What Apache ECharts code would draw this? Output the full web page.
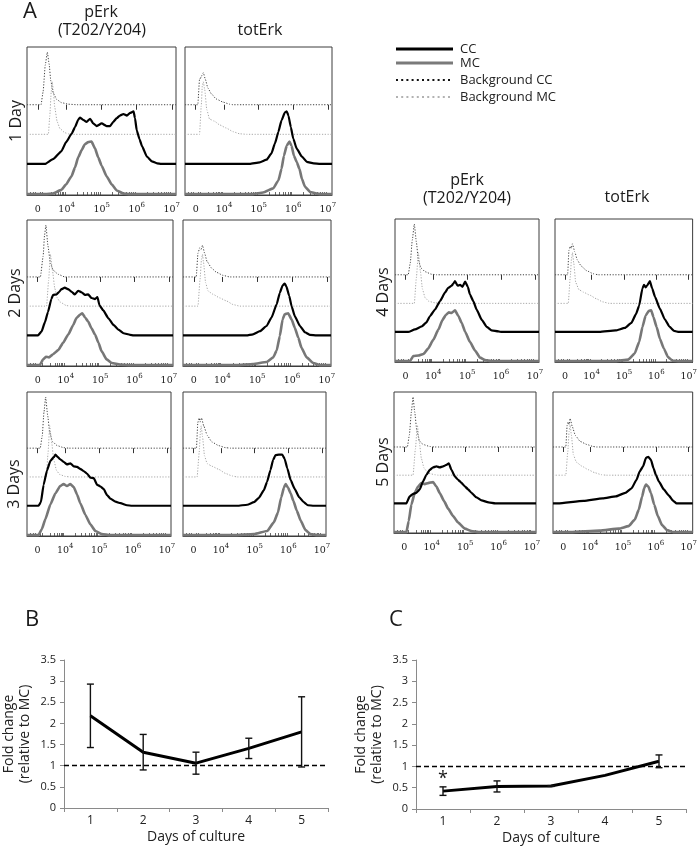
<!DOCTYPE html>
<html><head><meta charset="utf-8">
<script src="https://cdn.jsdelivr.net/npm/echarts@6/dist/echarts.min.js"></script>
<style>html,body{margin:0;padding:0;background:#fff}#c{width:700px;height:849px}</style>
</head><body><div id="c"></div>
<script>
// ================= DATA =================
// x tick labels of the flow histograms (display position in decades, label exponent; '' = "0")
const xTickPos = [3.18, 4, 5, 6, 7];
const xTickExp = ['', '4', '5', '6', '7'];
const markers = ['pErk', 'totErk'];
const dayLabels = ['1 Day', '2 Days', '3 Days', '4 Days', '5 Days'];
const legendNames = ['CC', 'MC', 'Background CC', 'Background MC'];

// histogram curves: [fluorescence (decade units), % of mode]
const d1PerkBgCC = [[3.27,0],[3.33,25],[3.39,75],[3.45,100],[3.50,78],[3.55,45],[3.62,22],[3.72,10],[3.85,4],[4.05,1],[4.3,0]];
const d1PerkBgMC = [[3.48,0],[3.52,35],[3.56,80],[3.59,100],[3.62,85],[3.66,52],[3.73,24],[3.81,11],[3.95,3],[4.1,0]];
const d1PerkCC = [[3.38,0],[3.61,9],[3.85,24],[3.98,41],[4.14,57],[4.24,70],[4.33,84],[4.38,88],[4.47,84],[4.57,80],[4.67,86],[4.76,77],[4.86,72],[5.00,77],[5.14,72],[5.24,72],[5.33,80],[5.43,87],[5.52,92],[5.62,95],[5.72,92],[5.81,97],[5.91,100],[5.95,87],[6.00,64],[6.08,47],[6.15,34],[6.29,14],[6.43,5],[6.58,1],[6.7,0]];
const d1PerkMC = [[3.4,0],[3.61,1],[3.85,8],[3.98,18],[4.14,34],[4.24,51],[4.33,70],[4.43,84],[4.52,95],[4.62,99],[4.71,100],[4.81,87],[4.90,70],[5.00,54],[5.14,34],[5.29,18],[5.43,7],[5.62,1],[5.81,0]];
const d1TotBgCC = [[3.24,0],[3.29,48],[3.34,53],[3.36,56],[3.40,61],[3.46,48],[3.53,32],[3.63,21],[3.77,11],[3.97,5],[4.16,1],[4.26,0]];
const d1TotBgMC = [[3.29,0],[3.34,54],[3.37,92],[3.40,100],[3.44,85],[3.50,47],[3.58,29],[3.72,25],[3.87,18],[4.06,12],[4.26,5],[4.45,1],[4.65,0]];
const d1TotCC = [[4.74,0],[5.03,3],[5.23,8],[5.37,20],[5.47,39],[5.57,61],[5.66,83],[5.76,98],[5.81,100],[5.86,92],[5.93,70],[6.00,48],[6.10,29],[6.25,14],[6.39,4],[6.59,1],[6.78,0]];
const d1TotMC = [[4.84,0],[5.13,3],[5.42,11],[5.57,26],[5.66,48],[5.73,73],[5.81,92],[5.89,100],[5.95,92],[6.02,73],[6.10,61],[6.18,48],[6.25,29],[6.34,14],[6.49,4],[6.68,1],[6.8,0]];

const d2PerkBgCC = [[3.26,0],[3.34,40],[3.38,80],[3.42,100],[3.48,60],[3.55,27],[3.63,13],[3.78,5],[3.97,0]];
const d2PerkBgMC = [[3.44,0],[3.50,50],[3.55,100],[3.61,69],[3.68,34],[3.75,16],[3.83,8],[4.02,1],[4.15,0]];
const d2PerkCC = [[3.19,0],[3.29,7],[3.39,25],[3.48,45],[3.58,70],[3.63,78],[3.73,79],[3.81,84],[3.87,89],[3.97,92],[4.07,89],[4.17,84],[4.26,79],[4.36,86],[4.46,83],[4.56,78],[4.65,79],[4.75,72],[4.85,70],[4.92,74],[4.98,58],[5.09,48],[5.24,33],[5.39,20],[5.53,11],[5.68,4],[5.87,1],[5.97,0]];
const d2PerkMC = [[3.24,0],[3.34,11],[3.42,16],[3.51,15],[3.63,21],[3.78,29],[3.92,43],[4.07,59],[4.22,78],[4.31,91],[4.41,97],[4.48,100],[4.56,92],[4.65,84],[4.75,71],[4.85,59],[4.95,43],[5.04,27],[5.19,11],[5.34,4],[5.58,1],[5.87,0]];
const d2TotBgCC = [[3.25,0],[3.30,46],[3.35,56],[3.39,53],[3.43,61],[3.49,46],[3.56,30],[3.69,17],[3.83,9],[4.02,3],[4.21,0]];
const d2TotBgMC = [[3.30,0],[3.36,52],[3.40,90],[3.43,100],[3.46,84],[3.52,45],[3.59,29],[3.73,23],[3.92,16],[4.12,10],[4.31,3],[4.50,0]];
const d2TotCC = [[4.69,0],[4.88,2],[5.08,8],[5.27,18],[5.41,34],[5.56,60],[5.65,82],[5.73,96],[5.79,100],[5.84,94],[5.92,76],[5.99,56],[6.08,37],[6.23,18],[6.37,6],[6.51,1],[6.71,0]];
const d2TotMC = [[4.40,0],[4.88,2],[5.27,6],[5.46,15],[5.56,28],[5.65,56],[5.73,88],[5.79,98],[5.89,100],[5.99,88],[6.08,72],[6.18,53],[6.27,34],[6.42,15],[6.61,4],[6.80,0]];

const d3PerkBgCC = [[3.26,0],[3.32,24],[3.37,70],[3.42,100],[3.48,64],[3.54,31],[3.62,13],[3.76,5],[3.95,1],[4.10,0]];
const d3PerkBgMC = [[3.44,0],[3.49,46],[3.54,100],[3.59,72],[3.66,34],[3.74,13],[3.83,5],[4.00,1],[4.15,0]];
const d3PerkCC = [[3.21,0],[3.28,7],[3.36,41],[3.46,69],[3.56,88],[3.66,95],[3.71,100],[3.78,95],[3.85,91],[3.95,86],[4.05,81],[4.15,83],[4.25,77],[4.35,76],[4.44,72],[4.54,68],[4.64,63],[4.74,55],[4.84,54],[4.94,41],[5.03,38],[5.13,33],[5.23,21],[5.33,14],[5.48,8],[5.63,5],[5.82,1],[5.97,0]];
const d3PerkMC = [[3.21,0],[3.31,12],[3.41,31],[3.56,60],[3.71,82],[3.85,96],[3.95,100],[4.05,96],[4.15,100],[4.25,94],[4.35,79],[4.44,63],[4.59,40],[4.74,21],[4.89,8],[5.08,2],[5.33,0]];
const d3TotBgCC = [[3.27,0],[3.31,50],[3.35,59],[3.38,51],[3.42,59],[3.49,43],[3.59,25],[3.73,12],[3.93,5],[4.13,1],[4.28,0]];
const d3TotBgMC = [[3.29,0],[3.35,47],[3.39,92],[3.41,100],[3.45,79],[3.51,41],[3.59,26],[3.73,21],[3.93,15],[4.13,7],[4.33,2],[4.48,0]];
const d3TotCC = [[4.48,0],[4.78,2],[4.98,7],[5.12,15],[5.27,30],[5.37,47],[5.47,70],[5.55,90],[5.62,99],[5.72,100],[5.82,100],[5.89,92],[5.97,73],[6.07,50],[6.19,33],[6.32,17],[6.46,7],[6.58,1],[6.76,0]];
const d3TotMC = [[4.38,0],[4.98,2],[5.37,8],[5.57,25],[5.69,44],[5.79,74],[5.87,93],[5.92,100],[5.99,93],[6.07,82],[6.15,67],[6.25,48],[6.37,28],[6.51,10],[6.66,2],[6.86,0]];

const d4PerkBgCC = [[3.26,0],[3.32,23],[3.38,68],[3.44,100],[3.50,65],[3.56,29],[3.64,13],[3.76,6],[3.95,1],[4.10,0]];
const d4PerkBgMC = [[3.44,0],[3.50,50],[3.56,100],[3.62,63],[3.68,28],[3.76,11],[3.87,4],[4.05,1],[4.20,0]];
const d4PerkCC = [[3.26,0],[3.46,5],[3.66,11],[3.80,19],[3.90,31],[4.05,44],[4.20,61],[4.35,78],[4.44,87],[4.54,91],[4.59,95],[4.64,100],[4.72,91],[4.79,93],[4.86,89],[4.94,99],[5.02,89],[5.08,74],[5.18,61],[5.28,44],[5.43,24],[5.58,10],[5.72,3],[5.92,1],[6.02,0]];
const d4PerkMC = [[3.31,0],[3.41,10],[3.56,11],[3.71,14],[3.85,25],[4.00,42],[4.15,62],[4.27,81],[4.37,91],[4.46,96],[4.54,95],[4.64,100],[4.74,89],[4.84,75],[4.94,58],[5.08,38],[5.23,21],[5.38,7],[5.53,2],[5.72,0]];
const d4TotBgCC = [[3.26,0],[3.30,48],[3.34,56],[3.37,52],[3.41,61],[3.48,45],[3.56,29],[3.68,17],[3.85,8],[4.05,2],[4.20,0]];
const d4TotBgMC = [[3.28,0],[3.34,51],[3.38,89],[3.41,100],[3.45,79],[3.51,41],[3.61,27],[3.75,22],[3.95,16],[4.15,9],[4.34,3],[4.54,0]];
const d4TotCC = [[4.24,0],[4.74,3],[5.03,8],[5.23,18],[5.37,35],[5.47,52],[5.57,86],[5.62,93],[5.67,88],[5.72,92],[5.80,100],[5.87,86],[5.96,69],[6.11,46],[6.26,25],[6.41,10],[6.55,2],[6.70,0]];
const d4TotMC = [[4.74,0],[5.13,3],[5.33,15],[5.47,38],[5.57,67],[5.67,90],[5.77,99],[5.84,100],[5.91,87],[6.01,67],[6.11,44],[6.23,25],[6.36,8],[6.50,1],[6.70,0]];

const d5PerkBgCC = [[3.27,0],[3.33,24],[3.39,70],[3.44,100],[3.49,70],[3.55,34],[3.63,12],[3.74,5],[3.94,1],[4.09,0]];
const d5PerkBgMC = [[3.44,0],[3.51,52],[3.57,100],[3.63,65],[3.69,33],[3.77,14],[3.89,4],[4.09,1],[4.19,0]];
const d5PerkCC = [[3.24,0],[3.34,14],[3.44,19],[3.54,21],[3.64,28],[3.74,44],[3.84,57],[3.94,67],[4.04,72],[4.14,74],[4.24,72],[4.34,74],[4.44,77],[4.51,80],[4.59,67],[4.69,54],[4.79,47],[4.89,41],[4.99,34],[5.09,28],[5.19,21],[5.34,12],[5.49,6],[5.70,2],[5.90,0]];
const d5PerkMC = [[3.24,0],[3.31,22],[3.39,55],[3.49,78],[3.59,91],[3.69,98],[3.79,96],[3.89,98],[4.04,100],[4.14,91],[4.24,78],[4.37,62],[4.49,47],[4.64,32],[4.79,19],[4.99,7],[5.19,2],[5.40,0]];
const d5TotBgCC = [[3.26,0],[3.30,43],[3.33,50],[3.36,45],[3.39,57],[3.46,40],[3.55,23],[3.70,11],[3.90,5],[4.09,1],[4.19,0]];
const d5TotBgMC = [[3.26,0],[3.32,47],[3.36,87],[3.39,100],[3.43,80],[3.49,41],[3.58,26],[3.75,18],[3.94,11],[4.14,5],[4.34,1],[4.48,0]];
const d5TotCC = [[3.02,0],[3.80,5],[4.38,10],[4.78,14],[5.07,21],[5.26,30],[5.41,47],[5.51,64],[5.61,74],[5.70,91],[5.77,93],[5.85,87],[5.93,70],[6.00,57],[6.09,44],[6.24,28],[6.39,16],[6.53,5],[6.63,0]];
const d5TotMC = [[3.41,0],[4.29,3],[4.87,7],[5.17,12],[5.36,25],[5.48,45],[5.58,71],[5.65,89],[5.70,95],[5.77,91],[5.85,78],[5.95,55],[6.06,32],[6.19,14],[6.34,4],[6.53,0]];

// panels B and C
const days = ['1', '2', '3', '4', '5'];
const pErkFold = [2.18, 1.32, 1.06, 1.41, 1.80];
const pErkErr = [0.75, 0.42, 0.26, 0.24, 0.83];
const totErkFold = [0.42, 0.53, 0.54, 0.79, 1.12];
const totErkErr = [0.10, 0.13, 0.01, 0, 0.15];
const yTicksFold = [0, 3.5, 0.5];

// ================= LAYOUT / STYLE =================
const FONT = 'Open Sans';
const XMIN = 2.87, XMAX = 7.12;
const BASE = [0.61, 0.41, 0.21, 0.006]; // baseline of each overlay (fraction of box)
const PEAK = 0.355;                      // height of 100% (fraction of box)
const curveStyles = [
  {color: '#444', width: 1, type: [1.2, 1.6]},
  {color: '#a8a8a8', width: 1, type: [1.2, 1.6]},
  {color: '#000', width: 2.2, type: 'solid'},
  {color: '#777', width: 2.6, type: 'solid'}
];
const minorTicks = [2.97, 3.05, 3.11, 3.25, 3.31, 3.55, 3.68, 3.76, 3.82, 3.87, 3.91, 3.95];
for (let n = 4; n < 7; n++) for (let k = 2; k < 10; k++) minorTicks.push(n + Math.log10(k));

const panels = [
  {box: [27, 47, 149, 148], curves: [d1PerkBgCC, d1PerkBgMC, d1PerkCC, d1PerkMC]},
  {box: [185, 47, 147, 148], curves: [d1TotBgCC, d1TotBgMC, d1TotCC, d1TotMC]},
  {box: [27, 220, 146, 146], curves: [d2PerkBgCC, d2PerkBgMC, d2PerkCC, d2PerkMC]},
  {box: [183, 220, 148, 146], curves: [d2TotBgCC, d2TotBgMC, d2TotCC, d2TotMC]},
  {box: [27, 392, 144, 144], curves: [d3PerkBgCC, d3PerkBgMC, d3PerkCC, d3PerkMC]},
  {box: [183, 392, 143, 144], curves: [d3TotBgCC, d3TotBgMC, d3TotCC, d3TotMC]},
  {box: [395, 219, 144, 143], curves: [d4PerkBgCC, d4PerkBgMC, d4PerkCC, d4PerkMC]},
  {box: [555, 219, 144, 143], curves: [d4TotBgCC, d4TotBgMC, d4TotCC, d4TotMC]},
  {box: [394, 392, 142, 141], curves: [d5PerkBgCC, d5PerkBgMC, d5PerkCC, d5PerkMC]},
  {box: [553, 392, 145, 141], curves: [d5TotBgCC, d5TotBgMC, d5TotCC, d5TotMC]}
];

const grids = [], xAxes = [], yAxes = [], series = [];

panels.forEach(p => {
  const gi = grids.length;
  grids.push({left: p.box[0], top: p.box[1], width: p.box[2], height: p.box[3], show: true,
    borderColor: '#3c3c3c', borderWidth: 1, backgroundColor: 'transparent'});
  const xi = xAxes.length;
  xAxes.push({type: 'value', gridIndex: gi, min: XMIN, max: XMAX,
    axisLine: {show: true, onZero: false, lineStyle: {color: '#3c3c3c', width: 1}},
    splitLine: {show: false},
    axisTick: {show: true, inside: true, length: 3, customValues: minorTicks, lineStyle: {color: '#444', width: 0.8}},
    axisLabel: {show: true, customValues: xTickPos, margin: 7, color: '#222',
      formatter: v => {
        const i = xTickPos.indexOf(v);
        const e = i >= 0 ? xTickExp[i] : '';
        return e === '' ? '{b|0}' : '{b|10}{s|' + e + '}';
      },
      rich: {
        b: {fontSize: 9.5, lineHeight: 16, fontFamily: 'DejaVu Serif', color: '#1a1a1a'},
        s: {fontSize: 7, lineHeight: 7, verticalAlign: 'top', fontFamily: 'DejaVu Serif', color: '#1a1a1a'}
      }}
  });
  xAxes.push({type: 'value', gridIndex: gi, min: XMIN, max: XMAX,
    axisLine: {show: false}, splitLine: {show: false}, axisLabel: {show: false},
    axisTick: {show: true, inside: true, length: 5, customValues: xTickPos, lineStyle: {color: '#333', width: 1}}});
  p.curves.forEach((c, k) => {
    const yi = yAxes.length;
    yAxes.push({type: 'value', gridIndex: gi, show: false,
      min: -BASE[k] / PEAK * 100, max: (1 - BASE[k]) / PEAK * 100});
    const st = curveStyles[k];
    series.push({type: 'line', xAxisIndex: xi, yAxisIndex: yi,
      data: [[XMIN, 0]].concat(c, [[XMAX, 0]]),
      showSymbol: false, symbol: 'none', smooth: 0.15, smoothMonotone: 'x', silent: true,
      lineStyle: {color: st.color, width: st.width, type: st.type},
      z: k === 2 ? 4 : 3});
  });
});

function foldChart(left, top, width, height, vals, errs) {
  const gi = grids.length;
  grids.push({left, top, width, height});
  const xi = xAxes.length, yi = yAxes.length;
  xAxes.push({type: 'category', gridIndex: gi, data: days, boundaryGap: true,
    axisLine: {show: true, lineStyle: {color: '#8a8a8a', width: 1}},
    axisTick: {show: true, length: 4, lineStyle: {color: '#8a8a8a'}},
    axisLabel: {color: '#222', fontSize: 12, fontFamily: FONT, margin: 7},
    name: 'Days of culture', nameLocation: 'middle', nameGap: 22,
    nameTextStyle: {fontSize: 14, fontFamily: FONT, color: '#222'}});
  yAxes.push({type: 'value', gridIndex: gi, min: yTicksFold[0], max: yTicksFold[1], interval: yTicksFold[2],
    axisLine: {show: true, lineStyle: {color: '#8a8a8a', width: 1}},
    axisTick: {show: true, length: 4, lineStyle: {color: '#8a8a8a'}},
    splitLine: {show: false},
    axisLabel: {color: '#222', fontSize: 11, fontFamily: FONT, margin: 8, formatter: v => String(v)},
    name: 'Fold change\n(relative to MC)', nameLocation: 'middle', nameRotate: 90, nameGap: 31,
    nameTextStyle: {fontSize: 14, lineHeight: 16, fontFamily: FONT, color: '#222'}});
  series.push({type: 'line', xAxisIndex: xi, yAxisIndex: yi, data: vals, symbol: 'none',
    lineStyle: {color: '#000', width: 3}, silent: true, z: 5,
    markLine: {silent: true, symbol: 'none', label: {show: false},
      lineStyle: {type: [5, 3], color: '#000', width: 1.3}, data: [{yAxis: 1}]}});
  series.push({type: 'custom', xAxisIndex: xi, yAxisIndex: yi, z: 6, silent: true,
    data: vals.map((v, i) => [i, v - errs[i], v + errs[i]]).filter((d, i) => errs[i] > 0),
    renderItem: (params, api) => {
      const lo = api.coord([api.value(0), api.value(1)]);
      const hi = api.coord([api.value(0), api.value(2)]);
      const w = 3.5, st = {stroke: '#111', lineWidth: 1.4};
      return {type: 'group', children: [
        {type: 'line', shape: {x1: lo[0], y1: lo[1], x2: hi[0], y2: hi[1]}, style: st},
        {type: 'line', shape: {x1: lo[0] - w, y1: lo[1], x2: lo[0] + w, y2: lo[1]}, style: st},
        {type: 'line', shape: {x1: hi[0] - w, y1: hi[1], x2: hi[0] + w, y2: hi[1]}, style: st}
      ]};
    }});
}
foldChart(63, 660, 265, 148, pErkFold, pErkErr);
foldChart(416, 660, 270, 149, totErkFold, totErkErr);

// ---------- texts & legend ----------
function txt(s, x, y, size, opts) {
  opts = opts || {};
  return {type: 'text', x, y, rotation: opts.rot || 0, silent: true,
    style: {text: s, x: 0, y: 0, fill: opts.color || '#1a1a1a', align: opts.align || 'center',
      verticalAlign: 'middle', font: (opts.weight || 'normal') + ' ' + size + 'px "' + FONT + '"'}};
}
const R = Math.PI / 2;
const graphics = [
  txt('A', 30, 12, 22),
  txt(markers[0], 101, 12, 16), txt('(T202/Y204)', 102, 30, 16), txt(markers[1], 260, 30, 16),
  txt(markers[0], 467, 180, 16), txt('(T202/Y204)', 467, 198, 16), txt(markers[1], 627, 197, 16),
  txt(dayLabels[0], 16, 121, 16, {rot: R}), txt(dayLabels[1], 15, 293, 16, {rot: R}),
  txt(dayLabels[2], 14, 484, 16, {rot: R}), txt(dayLabels[3], 383, 292, 16, {rot: R}),
  txt(dayLabels[4], 383, 462, 16, {rot: R}),
  txt('B', 32, 620, 22), txt('C', 396, 620, 22),
  txt('*', 443, 779, 18)
];
const legY = [49, 63, 80, 97];
const legLine = [
  {stroke: '#000', lineWidth: 3},
  {stroke: '#7a7a7a', lineWidth: 3},
  {stroke: '#111', lineWidth: 2, lineDash: [2, 3.2]},
  {stroke: '#999', lineWidth: 1.6, lineDash: [2, 3.2]}
];
legendNames.forEach((n, i) => {
  graphics.push({type: 'line', silent: true, shape: {x1: 396, y1: legY[i], x2: 453, y2: legY[i]}, style: legLine[i]});
  graphics.push(txt(n, 460, legY[i] + 0.5, 13, {align: 'left', color: '#222'}));
});

const chart = echarts.init(document.getElementById('c'), null, {renderer: 'canvas'});
chart.setOption({
  animation: false,
  backgroundColor: '#fff',
  grid: grids, xAxis: xAxes, yAxis: yAxes, series: series,
  graphic: graphics
});
</script>
</body></html>
